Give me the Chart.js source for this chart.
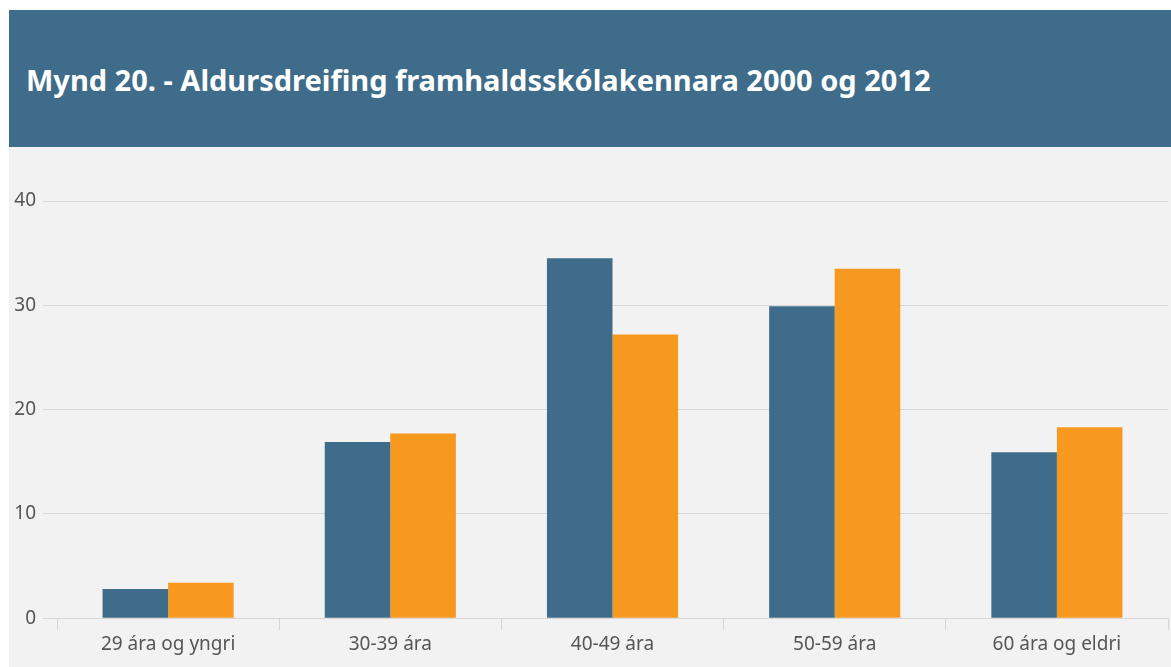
<!DOCTYPE html>
<html lang="is">
<head>
  <meta charset="UTF-8" />
  <title>Mynd 20</title>
  <script src="https://cdn.jsdelivr.net/npm/chart.js"></script>
  <style>
    body {
      margin: 0;
      background: #ffffff;
      font-family: "Noto Sans", Arial, sans-serif;
    }

    .wrap {
      position: absolute;
      left: 9px;
      top: 10px;
      width: 1162px;
      height: 657px;
      background: #f2f2f2;
    }

    .head {
      height: 137px;
      background: #3e6c8a;
      color: #fff;
      font-weight: bold;
      font-size: 29px;
      line-height: 140px;
      padding-left: 17px;
    }

    .plot {
      position: relative;
      width: 1162px;
      height: 520px;
    }
  </style>
</head>
<body>
  <div class="wrap">
    <div class="head">Mynd 20. - Aldursdreifing framhaldsskólakennara 2000 og 2012</div>
    <div class="plot"><canvas id="chart"></canvas></div>
  </div>

  <script>
    const categories = ['29 ára og yngri', '30-39 ára', '40-49 ára', '50-59 ára', '60 ára og eldri'];
    const series2000 = [2.8, 16.9, 34.5, 29.9, 15.9];
    const series2012 = [3.4, 17.7, 27.2, 33.5, 18.3];
    const yTicks = [0, 10, 20, 30, 40];

    const gridColor = '#d6d6d6';
    const labelFont = { family: '"Noto Sans", Arial, sans-serif', size: 19 };

    new Chart(document.getElementById('chart'), {
      type: 'bar',
      data: {
        labels: categories,
        datasets: [
          { label: '2000', data: series2000, backgroundColor: '#3e6c8a' },
          { label: '2012', data: series2012, backgroundColor: '#f7991f' }
        ]
      },
      options: {
        responsive: true,
        maintainAspectRatio: false,
        animation: false,
        layout: { padding: { top: 54, right: 3, bottom: 8, left: 0 } },
        datasets: {
          bar: { categoryPercentage: 0.59, barPercentage: 1 }
        },
        plugins: {
          legend: { display: false },
          tooltip: { enabled: false }
        },
        scales: {
          x: {
            grid: {
              offset: true,
              drawOnChartArea: false,
              drawTicks: true,
              tickLength: 12,
              color: gridColor
            },
            border: { color: gridColor },
            ticks: { color: '#555', font: labelFont, padding: 3 }
          },
          y: {
            min: 0,
            max: 40,
            afterBuildTicks: (s) => { s.ticks = yTicks.map(v => ({ value: v })); },
            afterFit: (s) => { s.width = 48; },
            grid: { color: gridColor, tickLength: 14 },
            border: { display: false },
            ticks: { color: '#555', font: labelFont, padding: 7 }
          }
        }
      }
    });
  </script>
</body>
</html>
